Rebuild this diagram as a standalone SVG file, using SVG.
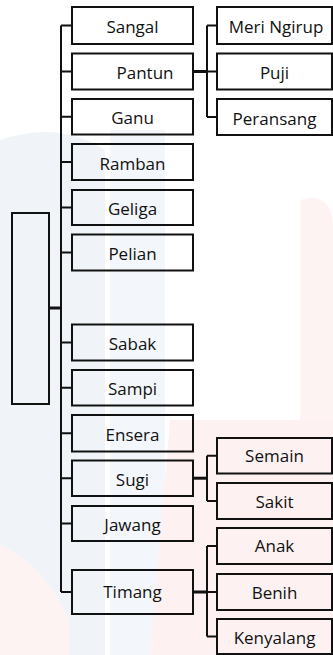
<svg xmlns="http://www.w3.org/2000/svg" width="333" height="655" viewBox="0 0 333 655">
<style>
.box{fill:none;stroke:#111;stroke-width:2}
.ln{fill:none;stroke:#111;stroke-width:2}
.thick{fill:none;stroke:#111;stroke-width:3}
text{font-family:"Open Sans","Noto Sans",sans-serif;font-size:17px;fill:#111;text-anchor:middle}
</style>
<g id="watermark">
<rect x="0" y="0" width="333" height="655" fill="#ffffff"/>
<path d="M0,140 Q60,120 105,150 L105,655 L0,655 Z" fill="#f0f4f9"/>
<rect x="110" y="130" width="55" height="525" fill="#f3f6fa"/>
<path d="M300,200 Q333,190 333,230 L333,420 L300,420 Z" fill="#fdf3f3"/>
<path d="M170,420 L333,420 L333,655 L150,655 Z" fill="#fdf2f1"/>
<path d="M0,545 Q40,560 70,620 L70,655 L0,655 Z" fill="#fdf3f3"/>
</g>
<g id="connectors">
<path class="ln" d="M61,25.5 V592"/>
<path class="ln" d="M61,25.5 H72 M61,71.5 H72 M61,116.7 H72 M61,162 H72 M61,207.5 H72 M61,252.5 H72 M61,342.5 H72 M61,387.7 H72 M61,433.2 H72 M61,478.2 H72 M61,523.5 H72 M61,592 H72"/>
<path class="thick" d="M49,308 H61"/>
<path class="thick" d="M193,71.5 H207"/>
<path class="ln" d="M207,25.5 V117 M207,25.5 H217 M207,71.5 H217 M207,117 H217"/>
<path class="thick" d="M193,478.2 H207"/>
<path class="ln" d="M207,455.7 V501 M207,455.7 H217 M207,501 H217"/>
<path class="thick" d="M193,592 H207"/>
<path class="ln" d="M207,546 V636.5 M207,546 H217 M207,592 H217 M207,636.5 H217"/>
</g>
<g id="root"><rect class="box" x="12" y="213" width="37" height="191"/></g>
<g id="sangal"><rect class="box" x="72" y="7" width="121" height="37"/><text x="132.5" y="33">Sangal</text></g>
<g id="pantun"><rect class="box" x="72" y="53.5" width="121" height="36"/><text x="145" y="79">Pantun</text></g>
<g id="ganu"><rect class="box" x="72" y="99" width="121" height="35.5"/><text x="132.5" y="124">Ganu</text></g>
<g id="ramban"><rect class="box" x="72" y="144" width="121" height="36"/><text x="132.5" y="169.5">Ramban</text></g>
<g id="geliga"><rect class="box" x="72" y="190" width="121" height="35"/><text x="132.5" y="215">Geliga</text></g>
<g id="pelian"><rect class="box" x="72" y="234.5" width="121" height="36"/><text x="132.5" y="260">Pelian</text></g>
<g id="sabak"><rect class="box" x="72" y="324.5" width="121" height="36"/><text x="132.5" y="350">Sabak</text></g>
<g id="sampi"><rect class="box" x="72" y="370" width="121" height="35.5"/><text x="132.5" y="395">Sampi</text></g>
<g id="ensera"><rect class="box" x="72" y="415" width="121" height="36.5"/><text x="132.5" y="440.5">Ensera</text></g>
<g id="sugi"><rect class="box" x="72" y="460.5" width="121" height="35.5"/><text x="132.5" y="485.5">Sugi</text></g>
<g id="jawang"><rect class="box" x="72" y="506" width="121" height="35"/><text x="132.5" y="531">Jawang</text></g>
<g id="timang"><rect class="box" x="72" y="570" width="121" height="44"/><text x="132.5" y="598">Timang</text></g>
<g id="meri-ngirup"><rect class="box" x="217" y="7" width="115" height="37"/><text x="276" y="33">Meri Ngirup</text></g>
<g id="puji"><rect class="box" x="217" y="53.5" width="115" height="36"/><text x="274.5" y="79">Puji</text></g>
<g id="peransang"><rect class="box" x="217" y="99" width="115" height="36"/><text x="274.5" y="124.5">Peransang</text></g>
<g id="semain"><rect class="box" x="217" y="438" width="115" height="35.5"/><text x="274.5" y="462">Semain</text></g>
<g id="sakit"><rect class="box" x="217" y="483" width="115" height="36"/><text x="274.5" y="508">Sakit</text></g>
<g id="anak"><rect class="box" x="217" y="528" width="115" height="36"/><text x="274.5" y="552">Anak</text></g>
<g id="benih"><rect class="box" x="217" y="574" width="115" height="36"/><text x="274.5" y="599">Benih</text></g>
<g id="kenyalang"><rect class="box" x="217" y="619" width="115" height="35"/><text x="274.5" y="644">Kenyalang</text></g>
</svg>
